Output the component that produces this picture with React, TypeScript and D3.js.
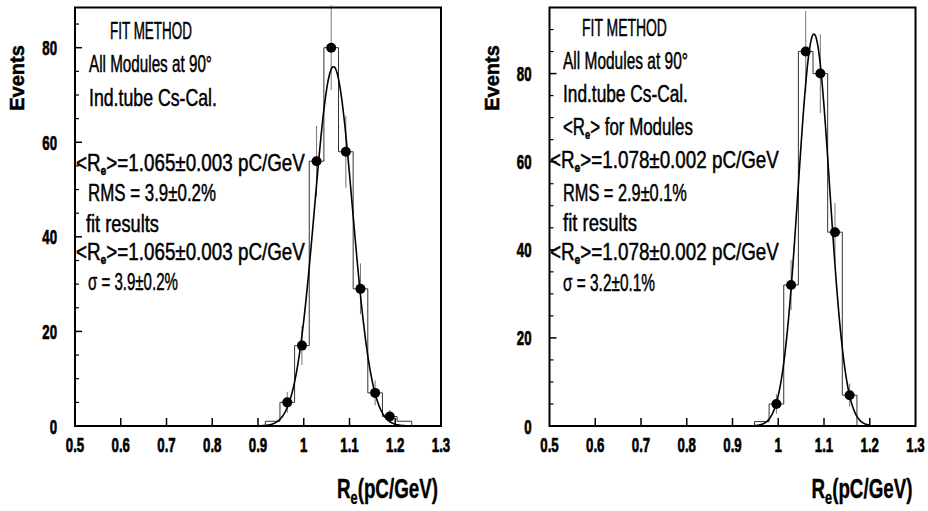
import React, { useEffect, useRef } from "react";
import * as d3 from "d3";

// ---------- data ----------
const BIN_WIDTH = 0.032;
const xTickValues = [0.5, 0.6, 0.7, 0.8, 0.9, 1.0, 1.1, 1.2, 1.3];
const xTickLabels = ["0.5", "0.6", "0.7", "0.8", "0.9", "1", "1.1", "1.2", "1.3"];
const yMajorTicks = [0, 20, 40, 60, 80];

const leftBinCenters = [0.932, 0.964, 0.996, 1.028, 1.06, 1.092, 1.124, 1.156, 1.188, 1.22];
const leftCounts = [1, 5, 17, 56, 80, 58, 29, 7, 2, 1];
const leftFit = [76, 1.065, 0.0415]; // amplitude, mean, sigma
const leftFitRange = [0.88, 1.25];
const leftYMax = 88.5;

const rightBinCenters = [0.964, 0.996, 1.028, 1.06, 1.092, 1.124, 1.156];
const rightCounts = [1, 5, 32, 85, 80, 44, 7];
const rightFit = [89, 1.078, 0.0345];
const rightFitRange = [0.94, 1.2];
const rightYMax = 95;

const leftNotes = [
  "FIT METHOD",
  "All Modules at 90°",
  "Ind.tube Cs-Cal.",
  "<R_e>=1.065±0.003 pC/GeV",
  "RMS = 3.9±0.2%",
  "fit results",
  "<R_e>=1.065±0.003 pC/GeV",
  "σ = 3.9±0.2%",
];
const rightNotes = [
  "FIT METHOD",
  "All Modules at 90°",
  "Ind.tube Cs-Cal.",
  "<R_e> for Modules",
  "<R_e>=1.078±0.002 pC/GeV",
  "RMS = 2.9±0.1%",
  "fit results",
  "<R_e>=1.078±0.002 pC/GeV",
  "σ = 3.2±0.1%",
];
const yTitle = "Events";
const xTitleMain = "R";
const xTitleSub = "e";
const xTitleRest = "(pC/GeV)";

// ---------- layout (relative to panel left axis) ----------
const leftNoteLayout = [
  { dx: 35, cy: 30, w: 82 },
  { dx: 14, cy: 63, w: 123 },
  { dx: 14, cy: 97, w: 128 },
  { dx: 1, cy: 162, w: 229 },
  { dx: 13, cy: 192, w: 128 },
  { dx: 11, cy: 223, w: 73 },
  { dx: 1, cy: 251, w: 229 },
  { dx: 13, cy: 281, w: 90 },
];
const rightNoteLayout = [
  { dx: 32.5, cy: 27, w: 85 },
  { dx: 13.5, cy: 60, w: 125 },
  { dx: 13.5, cy: 93, w: 125 },
  { dx: 13.5, cy: 126, w: 130 },
  { dx: 0.5, cy: 159, w: 229 },
  { dx: 13.5, cy: 192, w: 124 },
  { dx: 13.5, cy: 222, w: 74 },
  { dx: 0.5, cy: 251, w: 229 },
  { dx: 13.5, cy: 282, w: 92 },
];

const PLOT_W = 366;
const Y0 = 426;
const YTOP = 7.5;
const FONT = "'Liberation Sans', Arial, sans-serif";

function NoteText({ text, x, y, w, size }: any) {
  const parts = text.split("_e");
  return (
    <text
      data-fit="1"
      data-x={x}
      data-y={y}
      data-w={w}
      transform={`translate(${x},${y})`}
      fontFamily={FONT}
      fontSize={size}
      fill="#000"
      stroke="#000"
      strokeWidth={0.5}
    >
      {parts.length === 1 ? (
        text
      ) : (
        <>
          <tspan>{parts[0]}</tspan>
          <tspan fontSize={size * 0.55} fontWeight="bold" dy={4}>e</tspan>
          <tspan dy={-4}>{parts[1]}</tspan>
        </>
      )}
    </text>
  );
}

function Panel({ ox, yMax, centers, counts, fit, fitRange, notes, layout }: any) {
  const x = d3.scaleLinear().domain([0.5, 1.3]).range([ox, ox + PLOT_W]);
  const y = d3.scaleLinear().domain([0, yMax]).range([Y0, YTOP]);

  const pts: [number, number][] = [];
  centers.forEach((c: number, i: number) => {
    pts.push([c - BIN_WIDTH / 2, counts[i]]);
    pts.push([c + BIN_WIDTH / 2, counts[i]]);
  });
  const first = centers[0] - BIN_WIDTH / 2;
  const last = centers[centers.length - 1] + BIN_WIDTH / 2;
  const histPath =
    d3.line<[number, number]>().x((d) => x(d[0])).y((d) => y(d[1]))([
      [first, 0],
      ...pts,
      [last, 0],
    ]) || "";

  const [amp, mu, sg] = fit;
  const fitPts = d3.range(fitRange[0], fitRange[1] + 1e-9, 0.002).map((v) => [
    v,
    amp * Math.exp(-((v - mu) ** 2) / (2 * sg * sg)),
  ]);
  const fitPath =
    d3.line<number[]>().x((d) => x(d[0])).y((d) => y(d[1])).curve(d3.curveMonotoneX)(fitPts) || "";

  const minorY = d3.range(5, yMax, 5).filter((v) => v % 20 !== 0);

  return (
    <g>
      <path d={histPath} fill="none" stroke="#333" strokeWidth={1} />
      {centers.map((c: number, i: number) =>
        counts[i] > 1 ? (
          <line
            key={"e" + i}
            x1={x(c)}
            x2={x(c)}
            y1={y(counts[i] + Math.sqrt(counts[i]))}
            y2={y(counts[i] - Math.sqrt(counts[i]))}
            stroke="#777"
            strokeWidth={1}
          />
        ) : null
      )}
      <path d={fitPath} fill="none" stroke="#000" strokeWidth={1.6} />
      {centers.map((c: number, i: number) =>
        counts[i] > 1 ? <circle key={"p" + i} cx={x(c)} cy={y(counts[i])} r={5} fill="#000" /> : null
      )}
      <rect x={ox} y={YTOP} width={PLOT_W} height={Y0 - YTOP} fill="none" stroke="#000" strokeWidth={2} />
      {xTickValues.slice(1, -1).map((v) => (
        <line key={"xt" + v} x1={x(v)} x2={x(v)} y1={Y0} y2={Y0 - 8} stroke="#000" strokeWidth={1.5} />
      ))}
      {xTickValues.map((v, i) => (
        <text
          key={"xl" + v}
          transform={`translate(${x(v)},452) scale(0.63,1)`}
          textAnchor="middle"
          fontFamily={FONT}
          fontWeight="bold"
          fontSize={21}
          stroke="#000"
          strokeWidth={0.7}
        >
          {xTickLabels[i]}
        </text>
      ))}
      {yMajorTicks.map((v) => (
        <g key={"yt" + v}>
          <line x1={ox} x2={ox + 7} y1={y(v)} y2={y(v)} stroke="#000" strokeWidth={1.5} />
          <text
            transform={`translate(${ox - 18},${y(v) + 7.5}) scale(0.63,1)`}
            textAnchor="end"
            fontFamily={FONT}
            fontWeight="bold"
            fontSize={21}
            stroke="#000"
            strokeWidth={0.7}
          >
            {v}
          </text>
        </g>
      ))}
      {minorY.map((v) => (
        <line key={"ym" + v} x1={ox} x2={ox + 4} y1={y(v)} y2={y(v)} stroke="#000" strokeWidth={1.2} />
      ))}
      <text
        transform={`translate(${ox - 51},78) rotate(-90)`}
        textAnchor="middle"
        fontFamily={FONT}
        fontWeight="bold"
        fontSize={20}
        stroke="#000"
        strokeWidth={0.5}
      >
        {yTitle}
      </text>
      <text
        data-fit="1"
        data-x={ox + 262}
        data-y={498}
        data-w={101}
        transform={`translate(${ox + 262},498)`}
        fontFamily={FONT}
        fontWeight="bold"
        fontSize={28}
        stroke="#000"
        strokeWidth={0.4}
      >
        <tspan>{xTitleMain}</tspan>
        <tspan fontSize={19} dy={6}>{xTitleSub}</tspan>
        <tspan dy={-6}>{xTitleRest}</tspan>
      </text>
      {notes.map((t: string, i: number) => (
        <NoteText key={"n" + i} text={t} x={ox + layout[i].dx} y={layout[i].cy + 8.5} w={layout[i].w} size={24} />
      ))}
    </g>
  );
}

export default function App() {
  const ref = useRef<SVGSVGElement>(null);
  useEffect(() => {
    if (!ref.current) return;
    d3.select(ref.current)
      .selectAll<SVGTextElement, unknown>("text[data-fit]")
      .each(function () {
        const tw = +(this.getAttribute("data-w") || 0);
        const tx = +(this.getAttribute("data-x") || 0);
        const ty = +(this.getAttribute("data-y") || 0);
        const bw = this.getBBox().width || 1;
        this.setAttribute("transform", `translate(${tx},${ty}) scale(${tw / bw},1)`);
      });
  }, []);
  return (
    <svg
      ref={ref}
      width={928}
      height={511}
      style={{ position: "absolute", left: 0, top: 0, background: "#fff" }}
    >
      <rect width={928} height={511} fill="#fff" />
      <Panel
        ox={75}
        yMax={leftYMax}
        centers={leftBinCenters}
        counts={leftCounts}
        fit={leftFit}
        fitRange={leftFitRange}
        notes={leftNotes}
        layout={leftNoteLayout}
      />
      <Panel
        ox={549.5}
        yMax={rightYMax}
        centers={rightBinCenters}
        counts={rightCounts}
        fit={rightFit}
        fitRange={rightFitRange}
        notes={rightNotes}
        layout={rightNoteLayout}
      />
    </svg>
  );
}
